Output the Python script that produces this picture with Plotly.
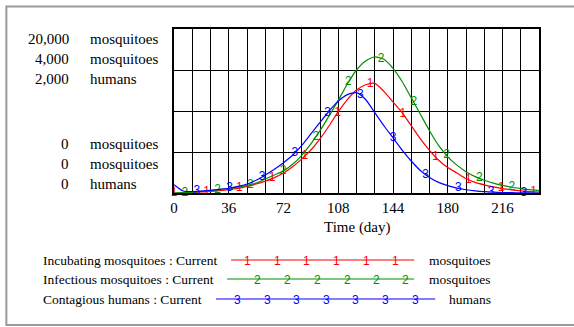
import numpy as np
import plotly.graph_objects as go

# ---- data ----
days = list(range(0, 241, 6))

incubating = [0, 20, 60, 120, 180, 280, 400, 560, 800, 1100, 1440, 1880, 2440, 3200, 4160,
              5240, 6600, 8200, 9920, 11400, 12560, 13200, 13360, 12400, 11100, 9800, 8200,
              6600, 5200, 4000, 3100, 2440, 1760, 1300, 1000, 740, 540, 380, 260, 180, 120]
infectious = [0, 8, 20, 40, 60, 88, 112, 144, 184, 240, 340, 440, 540, 700, 920, 1200, 1520,
              1880, 2260, 2660, 3000, 3220, 3320, 3260, 3040, 2720, 2320, 1920, 1520, 1160, 880,
              680, 520, 400, 312, 240, 184, 140, 108, 80, 60]
contagious = [100, 24, 18, 22, 32, 44, 58, 80, 110, 156, 220, 290, 370, 460, 580, 720, 860,
              1000, 1120, 1200, 1224, 1140, 980, 820, 674, 524, 390, 274, 190, 130, 90, 60, 40,
              26, 16, 10, 6, 4, 2, 2, 0]

# marker glyph positions (day, value)
inc_mark_days = [0, 21.5, 43, 64.5, 86, 107.5, 129, 150.5, 172, 193.5, 215, 236.5]
inc_mark_vals = [0, 155, 600, 1770, 4520, 9780, 13280, 9670, 4400, 1645, 573, 155]
inf_mark_days = [7.2, 28.7, 50.2, 71.7, 93.2, 114.7, 136.2, 157.7, 179.2, 200.7, 222.2]
inf_mark_vals = [10, 82, 205, 535, 1370, 2700, 3280, 2210, 920, 360, 139]
con_mark_days = [15, 36.5, 58, 79.5, 101, 122.5, 144, 165.5, 187, 208.5, 230]
con_mark_vals = [20, 60, 200, 490, 977, 1190, 674, 225, 57, 11, 2]

names = ["Incubating mosquitoes : Current", "Infectious mosquitoes : Current",
         "Contagious humans : Current"]
units = ["mosquitoes", "mosquitoes", "humans"]
scale_max = [20000, 4000, 2000]
x_ticks = list(range(0, 241, 12))
x_labels = [str(v) if v % 36 == 0 and v < 240 else "" for v in x_ticks]
colors = ["#ff0000", "#008f00", "#0000ff"]
glyphs = ["1", "2", "3"]

# ---- figure geometry (pixels) ----
W, H = 574, 327
L, R, T, B = 174, 538.7, 29, 193
pw, ph = R - L, B - T


def px(x):
    return (x - L) / pw


def py(y):
    return (B - y) / ph


SERIF = "Liberation Serif, Times New Roman, serif"
SANS = "Liberation Sans, Arial, sans-serif"

fig = go.Figure()
series = [(incubating, inc_mark_days, inc_mark_vals, "y"),
          (infectious, inf_mark_days, inf_mark_vals, "y2"),
          (contagious, con_mark_days, con_mark_vals, "y3")]
for i, (vals, md, mv, ax) in enumerate(series):
    fig.add_trace(go.Scatter(x=days, y=vals, mode="lines", yaxis=ax,
                             line=dict(color=colors[i], width=1.2, shape="spline", smoothing=0.6),
                             showlegend=False, hoverinfo="skip"))
    fig.add_trace(go.Scatter(x=md, y=mv, mode="text", yaxis=ax, text=[glyphs[i]] * len(md),
                             textposition="middle center",
                             textfont=dict(color=colors[i], size=12, family=SANS),
                             showlegend=False, hoverinfo="skip", cliponaxis=False))

fig.update_layout(
    width=W, height=H,
    margin=dict(l=L, r=W - R, t=T, b=H - B, pad=0),
    paper_bgcolor="white", plot_bgcolor="white",
    xaxis=dict(range=[0, 240], tickvals=x_ticks, ticktext=x_labels, showgrid=True,
               gridcolor="#000000", gridwidth=1, zeroline=False, showline=True, mirror=True,
               linecolor="black", linewidth=2, ticks="", ticklabelstandoff=0,
               tickfont=dict(family=SERIF, size=15, color="black")),
    yaxis=dict(range=[0, scale_max[0]], dtick=scale_max[0] / 4, showgrid=True,
               gridcolor="#000000", gridwidth=1, zeroline=False, showline=True, mirror=True,
               linecolor="black", linewidth=2, showticklabels=False, ticks=""),
    yaxis2=dict(range=[0, scale_max[1]], overlaying="y", showgrid=False, zeroline=False,
                showticklabels=False, visible=False),
    yaxis3=dict(range=[0, scale_max[2]], overlaying="y", showgrid=False, zeroline=False,
                showticklabels=False, visible=False),
)

ann = []
shapes = []
# left-side scale labels
top_y = [39, 59, 79]
bot_y = [144, 164, 184]
for i in range(3):
    for yy, val in ((top_y[i], f"{scale_max[i]:,}"), (bot_y[i], "0")):
        ann.append(dict(x=px(71), y=py(yy), xref="paper", yref="paper", text=val,
                        showarrow=False, xanchor="right", yanchor="middle",
                        font=dict(family=SERIF, size=15, color="black")))
        ann.append(dict(x=px(88), y=py(yy), xref="paper", yref="paper", text=units[i],
                        showarrow=False, xanchor="left", yanchor="middle",
                        font=dict(family=SERIF, size=15, color="black")))

# x-axis title
ann.append(dict(x=px(357.8), y=py(227), xref="paper", yref="paper", text="Time (day)",
                showarrow=False, xanchor="center", yanchor="middle",
                font=dict(family=SERIF, size=15, color="black")))

# legend
leg_y = [260, 279, 299]
leg_x0 = [231, 227, 216]
leg_x1 = [414, 414, 435]
leg_marks = [[247, 277, 306, 336, 366, 395],
             [257, 287, 317, 347, 376, 405],
             [237, 267, 296, 326, 355, 385, 415]]
for i in range(3):
    ann.append(dict(x=px(41), y=py(leg_y[i]), xref="paper", yref="paper", text=names[i],
                    showarrow=False, xanchor="left", yanchor="middle",
                    font=dict(family=SERIF, size=13.5, color="black")))
    ann.append(dict(x=px(493), y=py(leg_y[i]), xref="paper", yref="paper", text=units[i],
                    showarrow=False, xanchor="right", yanchor="middle",
                    font=dict(family=SERIF, size=13.5, color="black")))
    shapes.append(dict(type="line", xref="paper", yref="paper",
                       x0=px(leg_x0[i]), x1=px(leg_x1[i]), y0=py(leg_y[i]), y1=py(leg_y[i]),
                       line=dict(color=colors[i], width=1.2)))
    for mx in leg_marks[i]:
        ann.append(dict(x=px(mx), y=py(leg_y[i] + 1), xref="paper", yref="paper",
                        text=glyphs[i], showarrow=False, xanchor="center", yanchor="middle",
                        font=dict(family=SANS, size=12, color=colors[i])))

# outer frame (gray, left/top/bottom visible)
shapes.append(dict(type="rect", xref="paper", yref="paper",
                   x0=px(6.5), x1=px(590), y0=py(325), y1=py(6.5),
                   line=dict(color="#9a9a9a", width=2), layer="below"))

fig.update_layout(annotations=ann, shapes=shapes)
fig.write_html("out.html", config={"displayModeBar": False},
               post_script="document.body.style.margin='0';document.body.style.padding='0';")
